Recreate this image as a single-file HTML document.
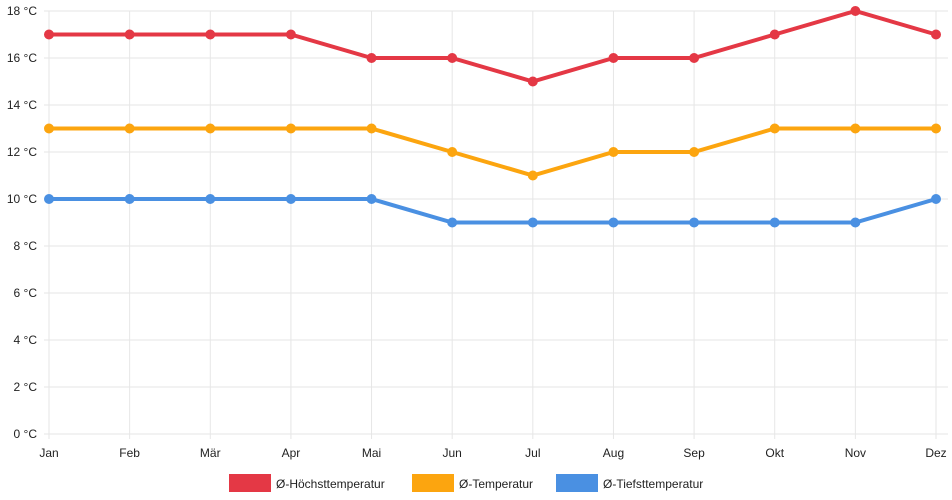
<!DOCTYPE html>
<html><head><meta charset="utf-8">
<style>
body{margin:0;background:#fff;font-family:"Liberation Sans",sans-serif;}
svg{display:block}
</style></head>
<body>
<svg id="chart" width="952" height="500" xmlns="http://www.w3.org/2000/svg" font-family="Liberation Sans, sans-serif" font-size="12"></svg>
<script>
const categories=["Jan","Feb","Mär","Apr","Mai","Jun","Jul","Aug","Sep","Okt","Nov","Dez"];
const maxTemp=[17,17,17,17,16,16,15,16,16,17,18,17];
const avgTemp=[13,13,13,13,13,12,11,12,12,13,13,13];
const minTemp=[10,10,10,10,10,9,9,9,9,9,9,10];
const yTicks=[0,2,4,6,8,10,12,14,16,18];
const seriesNames=["Ø-Höchsttemperatur","Ø-Temperatur","Ø-Tiefsttemperatur"];
const colors=["#e43845","#fca50f","#4a90e2"];
const svg=document.getElementById('chart');
const NS="http://www.w3.org/2000/svg";
const x0=49,x1=936,y0=434,y1=11;
const xs=i=>x0+(x1-x0)*i/(categories.length-1);
const ys=v=>y0-(y0-y1)*v/18;
function mk(t,a,p){const e=document.createElementNS(NS,t);for(const k in a)e.setAttribute(k,a[k]);(p||svg).appendChild(e);return e;}
yTicks.forEach(t=>{
 const l=mk('line',{x1:x0-5,x2:x1+12,y1:ys(t),y2:ys(t),stroke:'#e6e6e6'});
 
 
 const tx=mk('text',{x:37,y:ys(t)+4,'text-anchor':'end',fill:'#222'});
 tx.textContent=t+' °C';
 
 
});
categories.forEach((c,i)=>{
 const l=mk('line',{x1:xs(i),x2:xs(i),y1:y1,y2:y0+5,stroke:'#e6e6e6'});
 
 
 const tx=mk('text',{x:xs(i),y:457,'text-anchor':'middle',fill:'#222'});
 tx.textContent=c;
 
 
});
[maxTemp,avgTemp,minTemp].forEach((s,k)=>{
 const g=mk('g',{});
 
 
 const p=mk('polyline',{points:s.map((v,i)=>xs(i)+','+ys(v)).join(' '),fill:'none',stroke:colors[k],'stroke-width':4},g);
 
 
 s.forEach((v,i)=>{
  const c=mk('circle',{cx:xs(i),cy:ys(v),r:5,fill:colors[k]},g);
  
  
 });
});
const lx=[229,412,556];
seriesNames.forEach((n,k)=>{
 const g=mk('g',{});
 
 
 mk('rect',{x:lx[k],y:474,width:42,height:18,fill:colors[k]},g);
 const t=mk('text',{x:lx[k]+47,y:488,fill:'#222'},g);
 t.textContent=n;
});
</script>
</body></html>
